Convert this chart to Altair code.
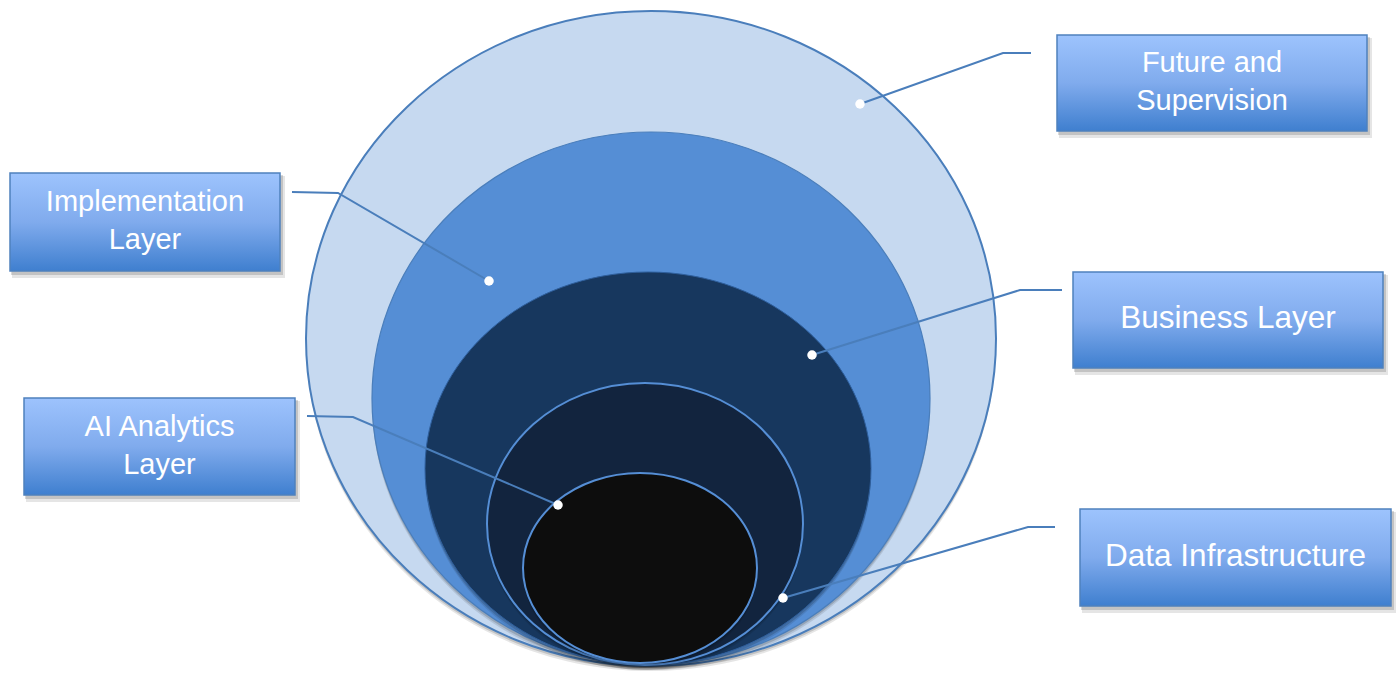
import altair as alt
import pandas as pd

W, H = 1396, 673

# Nested layers, outermost first: centre and radii (px), fill and outline
ring_cx = [651, 651, 648, 645, 640]
ring_cy = [338.5, 398.5, 468.5, 524, 568]
ring_rx = [345, 279, 223, 158, 117]
ring_ry = [327.5, 266.5, 196.5, 141, 95]
ring_fill = ["#c6d9f0", "#558ed5", "#17375e", "#12243e", "#0d0d0d"]
ring_stroke = ["#4a7ebb", "#4a7ebb", "#2f5f9c", "#558ed5", "#558ed5"]
ring_width = [2, 1.2, 1, 2, 2]

# Callout boxes
labels = ["Future and\nSupervision", "Implementation\nLayer", "Business Layer",
          "AI Analytics\nLayer", "Data Infrastructure"]
box_x0 = [1057, 10, 1073, 24, 1080]
box_x1 = [1367, 280, 1383, 295, 1391]
box_y0 = [35, 173, 272, 398, 509]
box_y1 = [131, 271, 368, 495, 606]
label_px = [29, 29, 31.5, 29, 31.5]
LINE_H = 38

# Connector: start next to the box, elbow, then the dot on a layer
lead_x = [1031, 292, 1062, 307, 1055]
lead_y = [53, 192, 290, 416, 527]
bend_x = [1003, 338, 1020, 353, 1028]
bend_y = [53, 193, 290, 417, 527]
dot_x = [860, 489, 812, 558, 783]
dot_y = [104, 281, 355, 505, 598]


def ellipse_path(rx, ry):
    return (f"M {-rx} 0 A {rx} {ry} 0 1 0 {rx} 0 "
            f"A {rx} {ry} 0 1 0 {-rx} 0 Z")


rows = []
for i in range(len(ring_cx)):
    # soft drop shadow under each layer
    for dy, op in [(5, 0.10), (3, 0.15)]:
        rows.append(dict(x=ring_cx[i], y=ring_cy[i] + dy,
                         path=ellipse_path(ring_rx[i], ring_ry[i]),
                         fill="#000000", stroke="#000000", sw=0, op=op))
    rows.append(dict(x=ring_cx[i], y=ring_cy[i],
                     path=ellipse_path(ring_rx[i], ring_ry[i]),
                     fill=ring_fill[i], stroke=ring_stroke[i],
                     sw=ring_width[i], op=1.0))
rings = pd.DataFrame(rows)

boxes = pd.DataFrame(dict(label=labels, x0=box_x0, x1=box_x1, y0=box_y0,
                          y1=box_y1, fs=label_px))
boxes["tx"] = (boxes.x0 + boxes.x1) / 2
# first line's middle sits half a line above the box centre per extra line
n_lines = boxes.label.str.count("\n")
boxes["ty"] = (boxes.y0 + boxes.y1) / 2 - 1 - n_lines * LINE_H / 2

lead_rows = []
for i in range(len(labels)):
    lead_rows += [dict(k=i, o=0, x=lead_x[i], y=lead_y[i]),
                  dict(k=i, o=1, x=bend_x[i], y=bend_y[i]),
                  dict(k=i, o=2, x=dot_x[i], y=dot_y[i])]
leads = pd.DataFrame(lead_rows)
dots = pd.DataFrame(dict(x=dot_x, y=dot_y))

xs = alt.Scale(domain=[0, W], nice=False, zero=False)
ys = alt.Scale(domain=[0, H], nice=False, zero=False, reverse=True)

ring_layer = alt.Chart(rings).mark_point(filled=True, opacity=1).encode(
    x=alt.X("x:Q", scale=xs, axis=None),
    y=alt.Y("y:Q", scale=ys, axis=None),
    shape=alt.Shape("path:N", scale=None),
    size=alt.value(4),
    fill=alt.Fill("fill:N", scale=None),
    stroke=alt.Stroke("stroke:N", scale=None),
    strokeWidth=alt.StrokeWidth("sw:Q", scale=None),
    opacity=alt.Opacity("op:Q", scale=None),
)

lead_layer = alt.Chart(leads).mark_line(color="#4a7ebb", strokeWidth=2).encode(
    x=alt.X("x:Q", scale=xs, axis=None),
    y=alt.Y("y:Q", scale=ys, axis=None),
    detail="k:N",
    order="o:Q",
)

dot_layer = alt.Chart(dots).mark_point(filled=True, opacity=1, color="white",
                                       size=90, shape="circle").encode(
    x=alt.X("x:Q", scale=xs, axis=None),
    y=alt.Y("y:Q", scale=ys, axis=None),
)

shadow_far = alt.Chart(boxes).mark_rect(color="#000000", opacity=0.10).encode(
    x=alt.X("sx0:Q", scale=xs, axis=None), x2="sx1:Q",
    y=alt.Y("sy0:Q", scale=ys, axis=None), y2="sy1:Q",
).transform_calculate(sx0="datum.x0 + 2", sx1="datum.x1 + 5",
                      sy0="datum.y0 + 3", sy1="datum.y1 + 7")
shadow_near = alt.Chart(boxes).mark_rect(color="#000000", opacity=0.15).encode(
    x=alt.X("sx0:Q", scale=xs, axis=None), x2="sx1:Q",
    y=alt.Y("sy0:Q", scale=ys, axis=None), y2="sy1:Q",
).transform_calculate(sx0="datum.x0 + 1", sx1="datum.x1 + 3",
                      sy0="datum.y0 + 2", sy1="datum.y1 + 4")

box_fill = alt.LinearGradient(
    gradient="linear", x1=0, y1=0, x2=0, y2=1,
    stops=[alt.GradientStop(color="#9dc3fd", offset=0),
           alt.GradientStop(color="#80abed", offset=0.5),
           alt.GradientStop(color="#3f7fcf", offset=1)],
)
box_layer = alt.Chart(boxes).mark_rect(fill=box_fill, stroke="#4f81bd",
                                       strokeWidth=1.5).encode(
    x=alt.X("x0:Q", scale=xs, axis=None), x2="x1:Q",
    y=alt.Y("y0:Q", scale=ys, axis=None), y2="y1:Q",
)

text_layer = alt.Chart(boxes).mark_text(
    color="white", font="Liberation Sans", align="center", baseline="middle",
    lineBreak="\n", lineHeight=LINE_H,
).encode(
    x=alt.X("tx:Q", scale=xs, axis=None),
    y=alt.Y("ty:Q", scale=ys, axis=None),
    text="label:N",
    size=alt.Size("fs:Q", scale=None),
)

chart = alt.layer(
    ring_layer, lead_layer, dot_layer, shadow_far, shadow_near, box_layer, text_layer
).properties(
    width=W, height=H, padding=0, autosize=alt.AutoSizeParams(type="none"),
    background="white",
).configure_view(stroke=None)

chart.save("out.html", embed_options={"renderer": "svg", "actions": False})
